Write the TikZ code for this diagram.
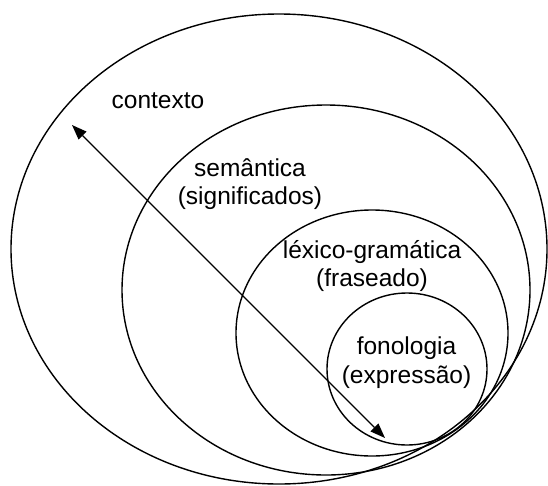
\documentclass[tikz,border=0pt]{standalone}
\usepackage{fontspec}
\setmainfont{Liberation Sans}
\usepackage{tikz}
\usetikzlibrary{arrows.meta}

\begin{document}
\begin{tikzpicture}[x=1pt, y=-1pt, line width=1.4pt,
		lbl/.style={align=center, inner sep=0pt, font=\fontsize{24.5}{28.5}\selectfont},
		head/.tip={Triangle[length=15pt, width=11pt]}]
	\useasboundingbox (0,0) rectangle (548,485);
	% nested levels, all touching at the lower right
	\foreach \cx/\cy/\rx/\ry in {279/249/268/235, 326/290/204/185, 372/333/136/123, 407/369/80/76} {
		\draw (\cx,\cy) ellipse [x radius=\rx pt, y radius=\ry pt];
	}
	\node[lbl, anchor=base] (contexto) at (158,108) {contexto};
	\node[lbl] (semantica) at (250,184) {semântica\\(significados)};
	\node[lbl] (lexico) at (372,266) {léxico-gramática\\(fraseado)};
	\node[lbl] (fonologia) at (406.5,362.5) {fonologia\\(expressão)};
	\coordinate (top) at (72,125);
	\coordinate (bottom) at (385,438);
	\draw[head-head, line width=1.2pt] (top) -- (bottom);
\end{tikzpicture}
\end{document}
